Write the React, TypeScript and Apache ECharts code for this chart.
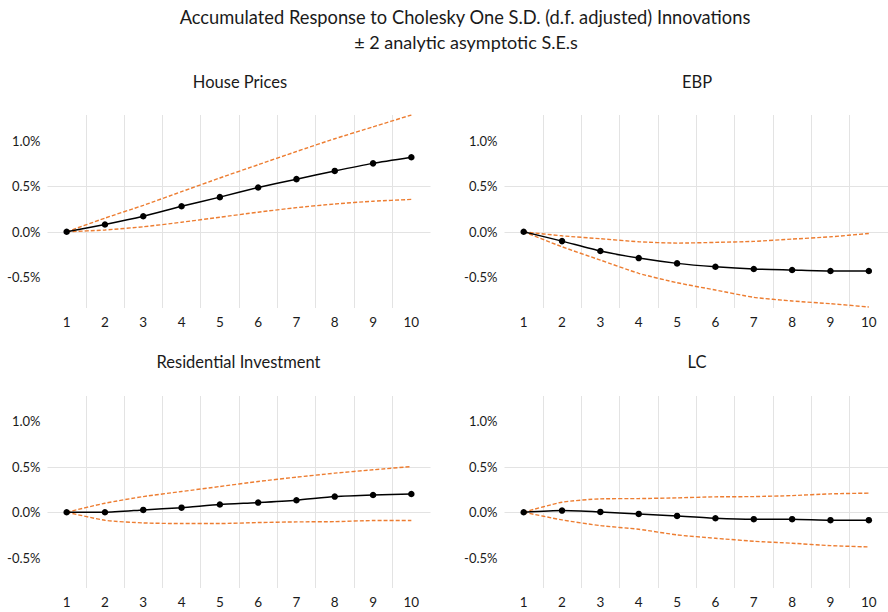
import React, { useEffect, useRef } from "react";
import * as echarts from "echarts";

const categories = ["1", "2", "3", "4", "5", "6", "7", "8", "9", "10"];
const yTicks = [-0.5, 0, 0.5, 1.0];

const panelTitles = ["House Prices", "EBP", "Residential Investment", "LC"];

const housePrices = [0, 0.08, 0.17, 0.28, 0.38, 0.485, 0.577, 0.667, 0.75, 0.817];
const housePricesUpper = [0, 0.15, 0.29, 0.44, 0.59, 0.735, 0.88, 1.02, 1.15, 1.28];
const housePricesLower = [0, 0.02, 0.055, 0.105, 0.16, 0.215, 0.265, 0.305, 0.335, 0.355];

const ebp = [0, -0.102, -0.211, -0.288, -0.346, -0.383, -0.408, -0.419, -0.43, -0.43];
const ebpUpper = [0, -0.044, -0.076, -0.109, -0.124, -0.116, -0.105, -0.08, -0.055, -0.018];
const ebpLower = [0, -0.164, -0.31, -0.455, -0.558, -0.638, -0.718, -0.758, -0.788, -0.824];

const resInv = [0, 0.0, 0.025, 0.05, 0.085, 0.106, 0.132, 0.172, 0.19, 0.2];
const resInvUpper = [0, 0.099, 0.172, 0.228, 0.283, 0.338, 0.386, 0.43, 0.467, 0.503];
const resInvLower = [0, -0.089, -0.118, -0.125, -0.125, -0.114, -0.107, -0.104, -0.092, -0.092];

const lc = [0, 0.018, 0.003, -0.019, -0.041, -0.066, -0.077, -0.077, -0.088, -0.088];
const lcUpper = [0, 0.11, 0.147, 0.15, 0.158, 0.169, 0.172, 0.183, 0.202, 0.21];
const lcLower = [0, -0.085, -0.148, -0.188, -0.25, -0.287, -0.32, -0.342, -0.368, -0.383];

const panels = [
  { mid: housePrices, up: housePricesUpper, lo: housePricesLower },
  { mid: ebp, up: ebpUpper, lo: ebpLower },
  { mid: resInv, up: resInvUpper, lo: resInvLower },
  { mid: lc, up: lcUpper, lo: lcLower },
];

const FONT = "Lato";

export default function App() {
  const ref = useRef<HTMLDivElement>(null);
  useEffect(() => {
    document.body.style.margin = "0";
    if (!ref.current) return;
    const chart = echarts.init(ref.current, null, { renderer: "svg" });
    const gridPos = [
      { left: 47.5, top: 115, width: 383, height: 193 },
      { left: 504.5, top: 115, width: 383.5, height: 193 },
      { left: 47.5, top: 396, width: 383, height: 192 },
      { left: 504.5, top: 396, width: 383.5, height: 192 },
    ];
    const grids = gridPos.map((g) => ({ ...g, containLabel: false }));
    const xAxes = gridPos.map((_, i) => ({
      type: "category",
      gridIndex: i,
      data: categories,
      boundaryGap: true,
      axisLine: { show: false },
      axisTick: { show: false },
      axisLabel: { color: "#1a1a1a", fontFamily: FONT, fontSize: 13.5, margin: 7 },
      splitLine: {
        show: true,
        showMinLine: false,
        showMaxLine: false,
        lineStyle: { color: "#e3e3e3", width: 1 },
      },
    }));
    const yAxes = gridPos.map((_, i) => ({
      type: "value",
      gridIndex: i,
      min: -0.835,
      max: 1.28,
      axisLine: { show: false },
      axisTick: { show: false, customValues: yTicks },
      axisLabel: {
        customValues: yTicks,
        color: "#1a1a1a",
        fontFamily: FONT,
        fontSize: 13,
        margin: 7,
        formatter: (v: number) => `${v.toFixed(1)}%`,
      },
      splitLine: {
        show: true,
        showMinLine: false,
        showMaxLine: false,
        lineStyle: { color: ["#e3e3e3", "#e3e3e3", "#bdbdbd", "#e3e3e3"], width: 1 },
      },
    }));
    const series: any[] = [];
    panels.forEach((p, i) => {
      [p.up, p.lo].forEach((d) => {
        series.push({
          type: "line",
          xAxisIndex: i,
          yAxisIndex: i,
          data: d,
          smooth: 0.2,
          symbol: "none",
          lineStyle: { color: "#ED7D31", width: 1.4, type: [4, 2] },
          z: 2,
        });
      });
      series.push({
        type: "line",
        xAxisIndex: i,
        yAxisIndex: i,
        data: p.mid,
        smooth: 0.2,
        symbol: "circle",
        symbolSize: 6.5,
        itemStyle: { color: "#000" },
        lineStyle: { color: "#000", width: 1.5 },
        z: 3,
      });
    });
    const titleCenters = [
      { x: 240, y: 82 },
      { x: 697, y: 82 },
      { x: 238.5, y: 362 },
      { x: 697, y: 362 },
    ];
    const graphic: any[] = [
      {
        type: "text",
        x: 465,
        y: 17,
        style: {
          text: "Accumulated Response to Cholesky One S.D. (d.f. adjusted) Innovations",
          fontFamily: FONT,
          fontSize: 18.3,
          fill: "#1a1a1a",
          align: "center",
          verticalAlign: "middle",
        },
      },
      {
        type: "text",
        x: 466,
        y: 42,
        style: {
          text: "± 2 analytic asymptotic S.E.s",
          fontFamily: FONT,
          fontSize: 18,
          fill: "#1a1a1a",
          align: "center",
          verticalAlign: "middle",
        },
      },
      ...titleCenters.map((c, i) => ({
        type: "text",
        x: c.x,
        y: c.y,
        style: {
          text: panelTitles[i],
          fontFamily: FONT,
          fontSize: 16.5,
          fill: "#1a1a1a",
          align: "center",
          verticalAlign: "middle",
        },
      })),
    ];
    chart.setOption({
      animation: false,
      backgroundColor: "#ffffff",
      grid: grids,
      xAxis: xAxes,
      yAxis: yAxes,
      series,
      graphic,
    });
    return () => chart.dispose();
  }, []);
  return <div ref={ref} style={{ width: 888, height: 612 }} />;
}
